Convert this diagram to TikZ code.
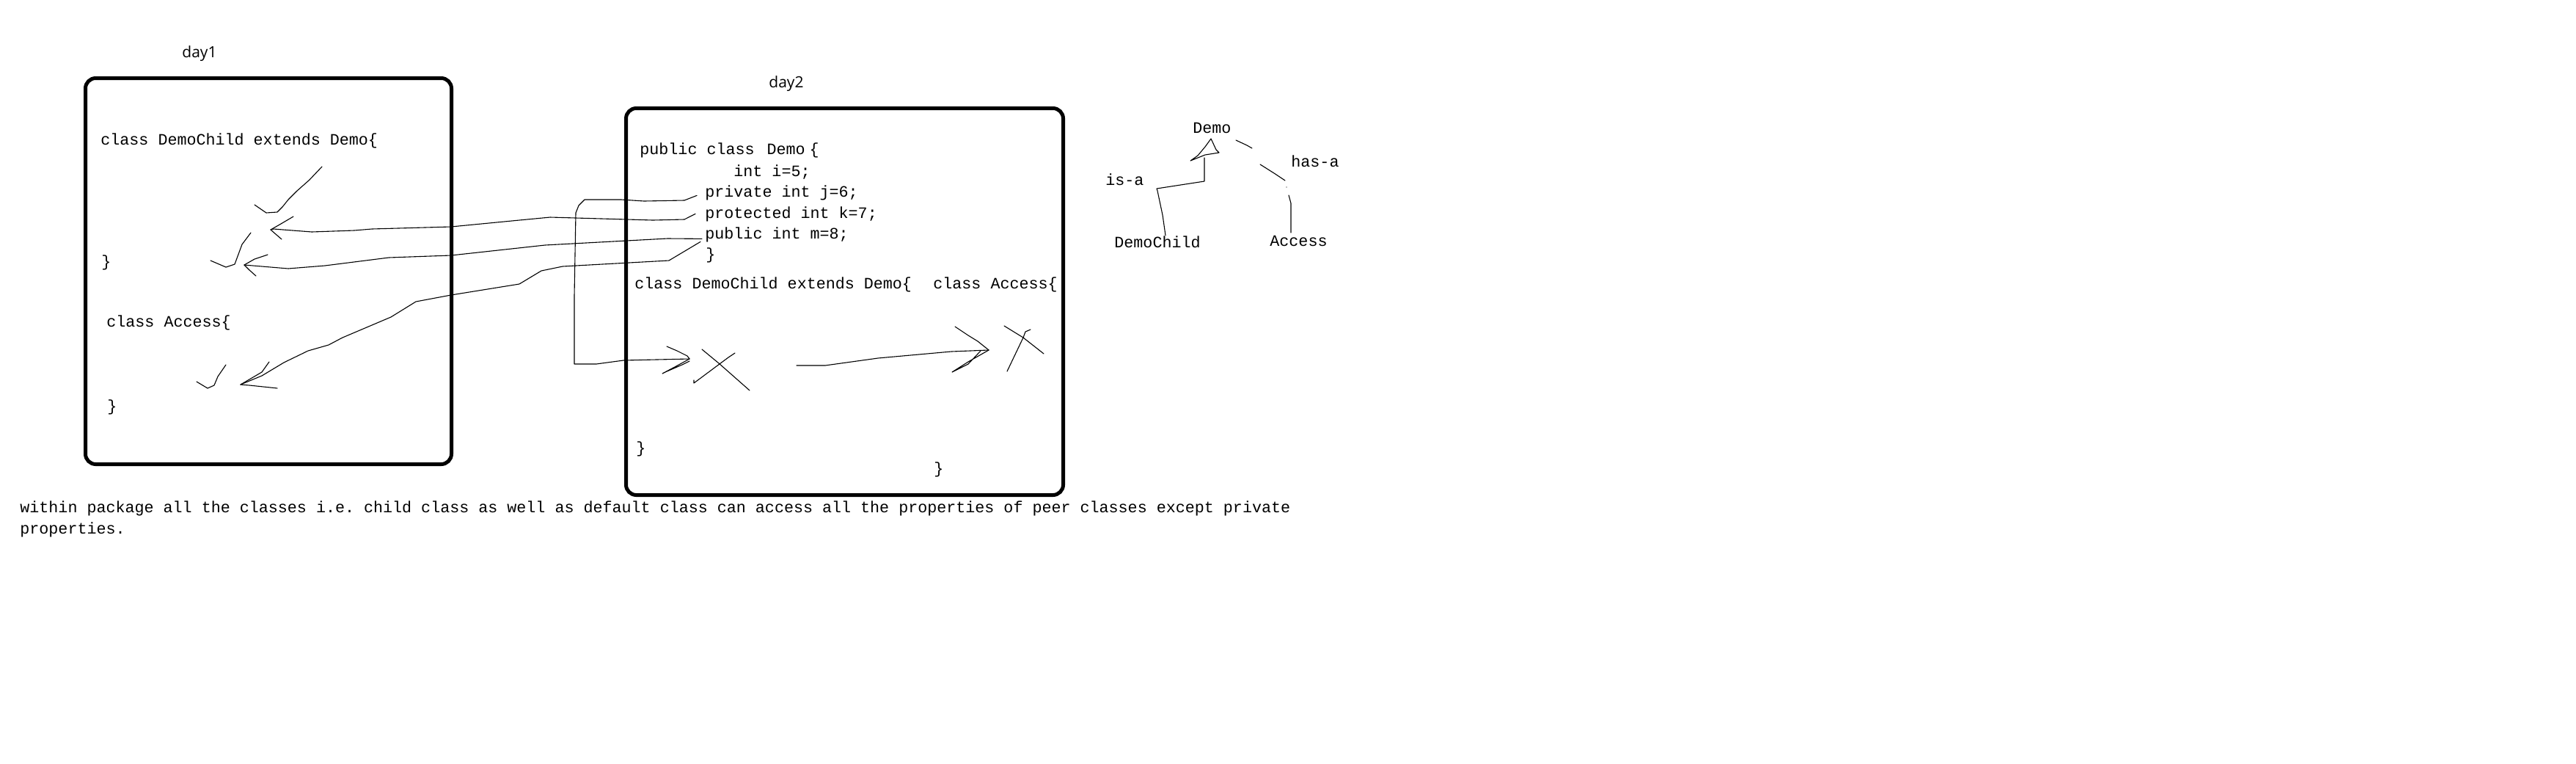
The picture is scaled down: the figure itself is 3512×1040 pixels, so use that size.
\documentclass[tikz,border=0pt]{standalone}
\usepackage{fontspec}
\setmonofont{Liberation Mono}
\newfontfamily\dayfont{Open Sans}

\begin{document}
\begin{tikzpicture}[x=0.5pt, y=-0.5pt,
  code/.style={font=\ttfamily\fontsize{10.85}{14}\selectfont, anchor=base west, inner sep=0pt},
  daylbl/.style={font=\dayfont\fontsize{10.5}{13}\selectfont, anchor=base west, inner sep=0pt},
  frame/.style={draw, line width=2.5pt, rounded corners=7pt},
  pen/.style={line width=0.55pt, line join=round, line cap=round}
]
\useasboundingbox (0,0) rectangle (3512,1040);

% day1 box
\node[daylbl] (day1) at (248,78) {day1};
\draw[frame] (116.5,106.5) rectangle (615.5,632.5);
\node[code] (d1child) at (137,197) {class DemoChild extends Demo\{};
\node[code] (d1close1) at (138,363) {\}};
\node[code] (d1access) at (145,445) {class Access\{};
\node[code] (d1close2) at (146,560) {\}};

% day2 box
\node[daylbl] (day2) at (1048,119) {day2};
\draw[frame] (853.5,147.5) rectangle (1449.5,674.5);
\node[code] (dmhead) at (872,210) {public class\kern8.5pt Demo\kern3pt\{};
\node[code] (dmi) at (1000,240) {int i=5;};
\node[code] (dmj) at (961,268) {private int j=6;};
\node[code] (dmk) at (961,297) {protected int k=7;};
\node[code] (dmm) at (961,325) {public int m=8;};
\node[code] (dmclose) at (962,353) {\}};
\node[code] (d2child) at (865,393) {class DemoChild extends Demo\{};
\node[code] (d2access) at (1272,393) {class Access\{};
\node[code] (d2close1) at (867,617) {\}};
\node[code] (d2close2) at (1273,645) {\}};

% arrow tips
\coordinate (tip1) at (369,313);
\coordinate (tip2) at (333,361);
\coordinate (tip3) at (328,524);
\coordinate (tipA) at (940,489);
\coordinate (estart) at (1086,498);
\coordinate (tipE) at (1348,477);

% protected -> day1 DemoChild
\draw[pen] ([xshift=-6.5pt]dmk.west) -- (933,299) -- (890,300) -- (750,296) -- (708,300)
  -- (615,309) -- (507,312) -- (483,314) -- (425,316) -- (373,312) -- (tip1);
\draw[pen] (tip1) -- (383,305) -- (400,295);
\draw[pen] (tip1) -- (377,320) -- (384,326);
\draw[pen] (439,227) -- (422,245) -- (405,260) -- (393,272) -- (385,282) -- (378,289) -- (363,290) -- (347,279);

% public -> day1 DemoChild
\draw[pen] ([shift={(-2pt,-3pt)}]dmm.west) -- (910,325) -- (743,334) -- (615,348)
  -- (530,351) -- (443,362) -- (393,366) -- (tip2);
\draw[pen] (tip2) -- (347,353) -- (365,347);
\draw[pen] (tip2) -- (340,368) -- (349,376);
\draw[pen] (342,317) -- (330,333) -- (320,360) -- (308,364) -- (287,355);

% public -> day1 Access
\draw[pen] ([shift={(-3pt,-5pt)}]dmm.west) -- (912,355) -- (767,363) -- (738,369) -- (708,387)
  -- (615,402) -- (567,411) -- (533,432) -- (467,460) -- (448,470) -- (420,478)
  -- (387,494) -- (357,512) -- (tip3);
\draw[pen] (tip3) -- (357,507) -- (367,493);
\draw[pen] (tip3) -- (340,525) -- (378,529);
\draw[pen] (308,497) -- (297,513) -- (292,525) -- (283,529) -- (268,520);

% private -> day2 DemoChild
\draw[pen] ([shift={(-5.5pt,-2pt)}]dmj.west) -- (933,273) -- (878,274) -- (847,272) -- (797,272)
  -- (789,280) -- (785,290) -- (783,403) -- (783,496) -- (813,496) -- (850,491) -- (tipA);
\draw[pen] (tipA) -- (937,485) -- (923,478) -- (909,472);
\draw[pen] (tipA) -- (920,500) -- (903,509) -- (907,507) -- (930,497) -- (940,492);
\draw[pen] (957,476) -- (980,495) -- (1022,532);
\draw[pen] (1002,481) -- (993,487) -- (946,522) -- (946,518);

% DemoChild -> day2 Access
\draw[pen] (estart) -- (1125,498) -- (1197,488) -- (1297,479) -- (tipE);
\draw[pen] (tipE) -- (1343,473) -- (1333,465) -- (1320,457) -- (1302,445);
\draw[pen] (tipE) -- (1320,493) -- (1298,507) -- (1320,496) -- (1337,478);
\draw[pen] (1369,444) -- (1395,460) -- (1423,482);
\draw[pen] (1405,449) -- (1398,452) -- (1395,460) -- (1373,506);

% is-a / has-a sketch
\node[code] (tdemo) at (1626,181) {Demo};
\node[code] (tisa) at (1507,252) {is-a};
\node[code] (thasa) at (1760,227) {has-a};
\node[code] (tchild) at (1519,337) {DemoChild};
\node[code] (taccess) at (1731,335) {Access};
\draw[pen] (1623,219) -- (1633,212) -- (1643,200) -- (1651,189) -- (1658,204) -- (1662,208) -- (1643,211) -- cycle;
\draw[pen] ([xshift=5.5pt]tchild.north) -- (1585,293) -- (1578,260) -- (1577,257) -- (1642,247) -- (1642,215);
\draw[pen] (1685,191) -- (1700,198) -- (1707,202);
\draw[pen] (1718,224) -- (1737,236) -- (1752,246);
\fill (1754,255) circle (0.35pt);
\draw[pen] (1757,266) -- (1760,277) -- (1760,317);

% note
\node[code] (note1) at (27,698) {within package all the classes i.e. child class as well as default class can access all the properties of peer classes except private};
\node[code] (note2) at (27,727) {properties.};
\end{tikzpicture}
\end{document}
